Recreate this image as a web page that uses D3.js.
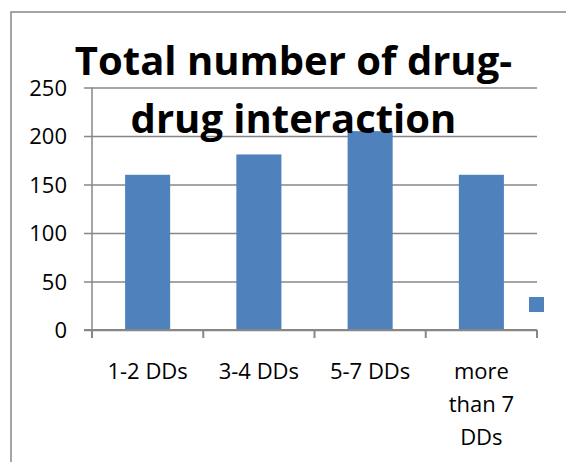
<!DOCTYPE html>
<html>
<head>
<meta charset="utf-8">
<script src="https://cdn.jsdelivr.net/npm/d3@7"></script>
<style>
  html, body { margin: 0; padding: 0; background: #fff; }
  svg { display: block; }
</style>
</head>
<body>
<svg id="chart" width="566" height="462"></svg>
<script>
// ---- data ----
const categories = ["1-2 DDs", "3-4 DDs", "5-7 DDs", "more than 7 DDs"];
const values = [160, 181, 205, 160];
const yTicks = [0, 50, 100, 150, 200, 250];
const titleLines = ["Total number of drug-", "drug interaction"];

// ---- layout ----
const svg = d3.select("#chart");
const plot = { left: 92, right: 537, top: 87.5, bottom: 330 };
const barColor = "#4f81bd";
const lineColor = "#878787";

// chart frame (extends past the picture on right and bottom)
svg.append("rect")
  .attr("x", 11).attr("y", 12)
  .attr("width", 600).attr("height", 500)
  .attr("fill", "none")
  .attr("stroke", lineColor)
  .attr("stroke-width", 1.5);

const x = d3.scaleBand()
  .domain(categories)
  .range([plot.left, plot.right])
  .paddingInner(0.595)
  .paddingOuter(0.2975);

const y = d3.scaleLinear()
  .domain([0, 250])
  .range([plot.bottom, plot.top]);

// gridlines + y axis
const yAxis = d3.axisLeft(y)
  .tickValues(yTicks)
  .tickSizeInner(-(plot.right - plot.left))
  .tickSizeOuter(0)
  .tickPadding(25);

const gy = svg.append("g")
  .attr("transform", `translate(${plot.left},0)`)
  .call(yAxis);
gy.select(".domain").remove();
gy.selectAll(".tick line")
  .attr("x1", -8)
  .attr("stroke", lineColor)
  .attr("stroke-width", 1.5);
gy.selectAll(".tick text")
  .attr("font-family", "'Open Sans', sans-serif")
  .attr("font-size", 22)
  .attr("fill", "#000")
  .attr("dy", "0.36em");

// y axis line
svg.append("line")
  .attr("x1", plot.left).attr("x2", plot.left)
  .attr("y1", plot.top).attr("y2", plot.bottom)
  .attr("stroke", lineColor).attr("stroke-width", 1.5);

// bars
svg.append("g").selectAll("rect")
  .data(categories.map((c, i) => ({ c, v: values[i] })))
  .join("rect")
  .attr("x", d => x(d.c))
  .attr("y", d => y(d.v))
  .attr("width", x.bandwidth())
  .attr("height", d => y(0) - y(d.v))
  .attr("fill", barColor);

// x axis line + tick marks at category boundaries
const step = x.step();
const boundaries = d3.range(categories.length + 1).map(i => plot.left + i * step);
svg.append("line")
  .attr("x1", plot.left - 8).attr("x2", plot.right)
  .attr("y1", plot.bottom).attr("y2", plot.bottom)
  .attr("stroke", lineColor).attr("stroke-width", 2);
svg.append("g").selectAll("line")
  .data(boundaries)
  .join("line")
  .attr("x1", d => d).attr("x2", d => d)
  .attr("y1", plot.bottom).attr("y2", plot.bottom + 8)
  .attr("stroke", lineColor).attr("stroke-width", 2);

// x labels with wrapping
const maxW = 92;
const xl = svg.append("g");
categories.forEach(c => {
  const cx = x(c) + x.bandwidth() / 2;
  const t = xl.append("text")
    .attr("x", cx)
    .attr("y", plot.bottom + 49)
    .attr("text-anchor", "middle")
    .attr("font-family", "'Open Sans', sans-serif")
    .attr("font-size", 22)
    .attr("fill", "#000");
  const words = c.split(" ");
  let line = [];
  let lineNo = 0;
  let tspan = t.append("tspan").attr("x", cx).attr("dy", 0);
  words.forEach(w => {
    line.push(w);
    tspan.text(line.join(" "));
    if (tspan.node().getComputedTextLength() > maxW && line.length > 1) {
      line.pop();
      tspan.text(line.join(" "));
      line = [w];
      lineNo++;
      tspan = t.append("tspan").attr("x", cx).attr("dy", 33).text(w);
    }
  });
});

// legend marker (series without name)
svg.append("rect")
  .attr("x", 529).attr("y", 297)
  .attr("width", 15).attr("height", 15)
  .attr("fill", barColor);

// title
const title = svg.append("text")
  .attr("text-anchor", "middle")
  .attr("font-family", "'Open Sans', sans-serif")
  .attr("font-weight", "bold")
  .attr("font-size", 40)
  .attr("fill", "#000");
titleLines.forEach((l, i) => {
  title.append("tspan")
    .attr("x", 293.5)
    .attr("y", 75 + i * 57.7)
    .text(l);
});
</script>
</body>
</html>
